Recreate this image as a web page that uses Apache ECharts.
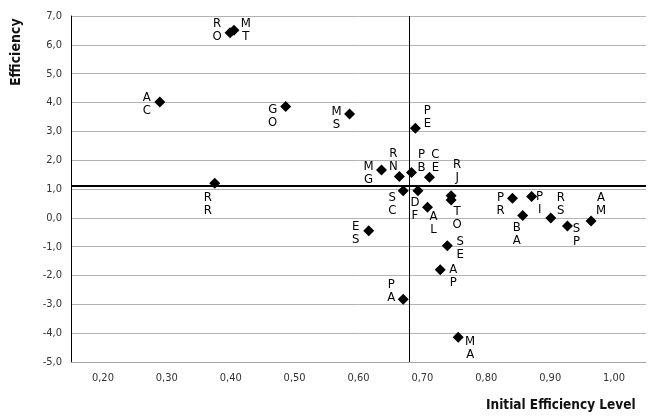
<!DOCTYPE html>
<html>
<head>
<meta charset="utf-8">
<script src="https://cdn.jsdelivr.net/npm/echarts@6/dist/echarts.min.js"></script>
<style>html,body{margin:0;padding:0;background:#fff}#c{width:650px;height:420px}</style>
</head>
<body>
<div id="c"></div>
<script>
// Data
var codes = ['RO','MT','AC','GO','MS','PE','MG','RN','PB','CE','RJ','TO','SC','DF','AL','ES','SE','AP','PA','MA','RR','PR','BA','PI','RS','SP','AM'];
var initialEfficiency = [0.399,0.405,0.289,0.486,0.586,0.689,0.636,0.664,0.683,0.711,0.745,0.745,0.670,0.693,0.708,0.616,0.739,0.728,0.670,0.756,0.375,0.841,0.857,0.871,0.901,0.927,0.964];
var efficiency = [6.42,6.51,4.02,3.86,3.60,3.11,1.66,1.43,1.57,1.41,0.77,0.62,0.94,0.94,0.37,-0.45,-0.97,-1.80,-2.82,-4.14,1.20,0.68,0.08,0.74,-0.01,-0.28,-0.11];
var xTicks = [0.2,0.3,0.4,0.5,0.6,0.7,0.8,0.9,1.0];
var refX = 0.677;
var refY = 1.1;

// Label placement (style only): offset of label centre from the marker, px
var labelOffsets = [[-13,-3],[12,0],[-13,2],[-13,10],[-13,4],[12,-11],[-13,3],[-6,-16],[10,-11],[6,-16],[6,-25],[6,18],[-11,13],[-3,18],[6,16],[-13,2],[13,2],[13,6],[-12,-8],[12,11],[-7,21],[-12,6],[-6,19],[8,7],[10,-14],[9,9],[10,-17]];

var font = "'Liberation Sans Narrow','DejaVu Sans Condensed','Liberation Sans',sans-serif";
var pts = codes.map(function(c,i){
  return {
    value:[initialEfficiency[i], efficiency[i]],
    label:{offset:labelOffsets[i]}
  };
});
function fmt(v){ return v.toFixed(2).replace('.',','); }

var chart = echarts.init(document.getElementById('c'), null, {renderer:'canvas'});
chart.setOption({
  animation:false,
  grid:{left:71, right:4, top:16, bottom:58},
  xAxis:{
    type:'value', min:0.15, max:1.05,
    axisLine:{show:true, onZero:false, lineStyle:{color:'#a6a6a6', width:1}},
    axisTick:{show:false},
    splitLine:{show:false},
    axisLabel:{customValues:xTicks, formatter:function(v){return fmt(v);}, color:'#333', fontSize:11, fontFamily:font, margin:11}
  },
  yAxis:{
    type:'value', min:-5, max:7, interval:1,
    axisLine:{show:true, onZero:false, lineStyle:{color:'#000', width:1}},
    axisTick:{show:false},
    splitLine:{show:true, lineStyle:{color:'#b3b3b3', width:1}},
    axisLabel:{formatter:function(v){return v.toFixed(1).replace('.',',');}, color:'#333', fontSize:11, fontFamily:font, margin:9}
  },
  graphic:[
    {type:'text', left:486, top:398, style:{text:'Initial Efficiency Level', font:"bold 13.5px "+font, fill:'#111'}},
    {type:'text', x:9, y:86, rotation:Math.PI/2, style:{text:'Efficiency', font:"bold 14px "+font, fill:'#111'}}
  ],
  series:[{
    type:'scatter',
    symbol:'diamond',
    symbolSize:11,
    itemStyle:{color:'#000', opacity:1},
    data:pts,
    label:{
      show:true, position:'inside',
      formatter:function(p){ return codes[p.dataIndex].split('').join('\n'); },
      fontSize:13, lineHeight:13, color:'#000', fontFamily:font,
      align:'center', verticalAlign:'middle'
    },
    markLine:{
      silent:true, symbol:'none', animation:false,
      label:{show:false},
      data:[
        {xAxis:refX, lineStyle:{color:'#000', width:1, type:'solid'}},
        {yAxis:refY, lineStyle:{color:'#000', width:2, type:'solid'}}
      ]
    }
  }]
});
</script>
</body>
</html>
